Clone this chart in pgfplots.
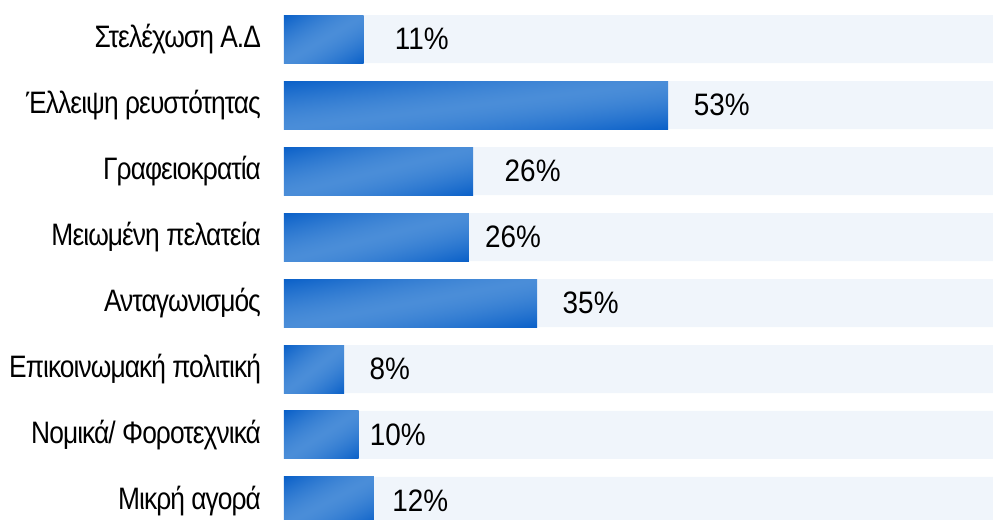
\documentclass[border=0pt]{standalone}
\usepackage{fontspec}
\usepackage{pgfplots}
\usepackage{pgfplotstable}
\pgfplotsset{compat=1.18}
\setmainfont{Liberation Sans}
\newfontfamily\labfont[FakeStretch=0.85, LetterSpace=-3]{Liberation Sans}
\newfontfamily\numfont[FakeStretch=0.9]{Liberation Sans}
\definecolor{bgpale}{HTML}{F0F5FB}
% bar fill: light #4A8DD8 along the rising diagonal, dark #0A60C8 in the
% top-left and bottom-right corners (s = |t|^1.5, t = (x-y)/50 in the shown square)
\pgfdeclarefunctionalshading{barshade}{\pgfpointorigin}{\pgfpoint{100bp}{100bp}}{}{
  sub 50 div abs dup sqrt mul
  dup dup
  -0.251 mul 0.290 add
  exch -0.177 mul 0.553 add
  3 2 roll -0.063 mul 0.847 add
}

% y = row, v = bar value, lx = where the label sits, pct = printed value
\pgfplotstableread{
y v lx pct
0 11.0 19.0 11
1 53.0 60.4 53
2 26.1 34.3 26
3 25.5 31.6 26
4 34.9 42.3 35
5 8.3 14.6 8
6 10.3 15.7 10
7 12.4 18.8 12
}\causes

\begin{document}
\begin{tikzpicture}
\begin{axis}[
  at={(142pt,0pt)}, anchor=south west,
  scale only axis,
  width=354.5pt, height=252.5pt,
  xmin=0, xmax=97.8,
  ymin=-0.364, ymax=7.288,
  y dir=reverse,
  axis line style={draw=none},
  xtick=\empty,
  ytick={0,...,7},
  yticklabels={Στελέχωση Α.Δ, Έλλειψη ρευστότητας, Γραφειοκρατία, Μειωμένη πελατεία, Ανταγωνισμός, Επικοινωμακή πολιτική, Νομικά/ Φοροτεχνικά, Μικρή αγορά},
  major tick length=0pt,
  yticklabel style={font=\labfont\fontsize{15.5}{16}\selectfont, anchor=east, xshift=-8pt},
  xbar, bar width=24pt, bar shift=0pt,
]
\addplot[xbar, bar shift=0pt, draw=none, fill=bgpale] table[x expr=100, y=y] {\causes};
% one plot per bar so that every bar gets its own shading
\pgfplotsinvokeforeach{0,...,7}{
  \addplot[xbar, bar shift=0pt, draw=none, shading=barshade,
    y filter/.expression={abs(y-#1)<0.2 ? y : nan}]
    table[x=v, y=y] {\causes};
}
\addplot[draw=none, mark=none, nodes near coords={\pgfplotspointmeta\%}, point meta=explicit symbolic,
  nodes near coords style={anchor=center, font=\numfont\fontsize{15.5}{16}\selectfont}]
  table[x=lx, y=y, meta=pct] {\causes};
\end{axis}
\pgfresetboundingbox
\path (0,0) rectangle (496.5pt,260pt);
\end{tikzpicture}
\end{document}
